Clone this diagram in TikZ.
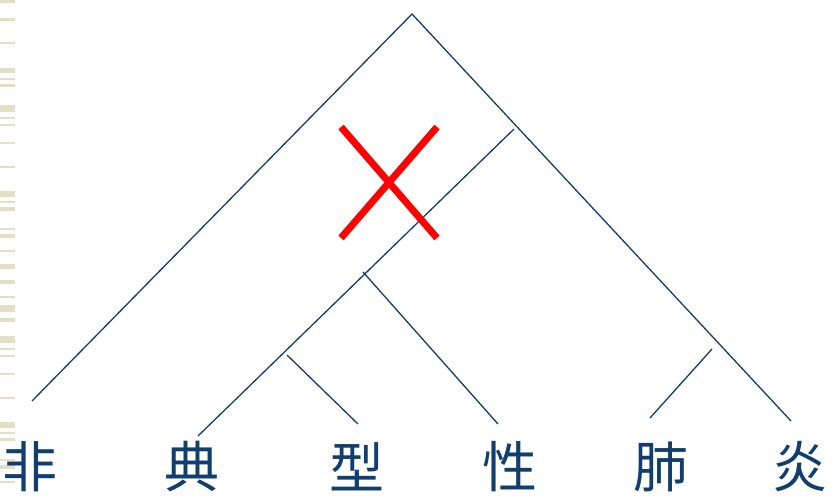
\documentclass[tikz,border=0pt]{standalone}
\usepackage{fontspec}
\newfontfamily\cjk{Noto Sans CJK SC}
\definecolor{navy}{HTML}{123E6E}
\definecolor{stripe}{HTML}{E2DFC4}
\begin{document}
\begin{tikzpicture}[x=1pt,y=-1pt,
  branch/.style={draw=navy,line width=1.3pt},
  cross/.style={draw=red,line width=7pt},
  word/.style={font=\cjk\fontsize{55}{55}\selectfont,text=navy,inner sep=0pt,anchor=center},
  bar/.style={fill=stripe,draw=none}]
\useasboundingbox (0,0) rectangle (832,498);
% left stripes
\foreach \a/\b in {0/3,18/21,42/44,68/73,78/79.5,84/87,105/112,117/119,124/126,142/144,166/168,191/197,201/203,207/211,228/230,234/238,250/252,264/269,280/284,296/298,305/312,318/322,336/343,348/350,355/357,373/375,397/399,422/428,432/434,438/441,459/461,465/469,481/483}
  \path[bar] (0,\a) rectangle (15,\b);
% coordinates
\coordinate (top) at (412,14);
\coordinate (l1) at (32,401);
\coordinate (r1) at (791,421);
\coordinate (t2) at (514,129);
\coordinate (l2) at (198,436);
\coordinate (t3) at (363,272);
\coordinate (r3) at (498,424);
\coordinate (t4) at (287,355);
\coordinate (r4) at (358,424);
\coordinate (t5) at (712,349);
\coordinate (l5) at (650,418);
\draw[branch] (l1) -- (top) -- (r1);
\draw[branch] (t2) -- (l2);
\draw[branch] (t3) -- (r3);
\draw[branch] (t4) -- (r4);
\draw[branch] (t5) -- (l5);
% red cross
\coordinate (xa) at (341,127);
\coordinate (xb) at (437,238);
\coordinate (xc) at (437,127);
\coordinate (xd) at (341,238);
\draw[cross] (xa) -- (xb);
\draw[cross] (xc) -- (xd);
% words
\node[word] (w1) at (30,467) {非};
\node[word] (w2) at (192,467) {典};
\node[word] (w3) at (357,467) {型};
\node[word] (w4) at (510,467) {性};
\node[word] (w5) at (661,467) {肺};
\node[word] (w6) at (800,467) {炎};
\end{tikzpicture}
\end{document}
